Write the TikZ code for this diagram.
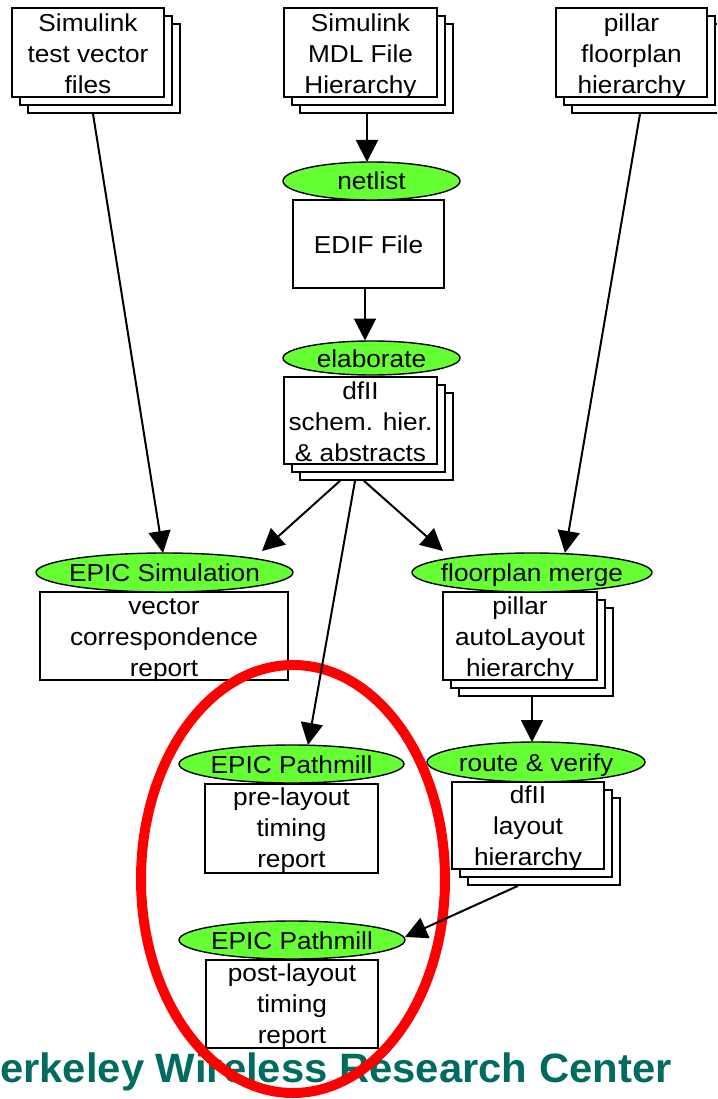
\documentclass[tikz,border=0pt]{standalone}
\usepackage{fontspec}
\setmainfont{Liberation Sans}[FakeStretch=1.07]
\newfontfamily\bwrcfont{Liberation Sans}[FakeStretch=1.02]
\usetikzlibrary{shapes.geometric,arrows.meta,calc}
\definecolor{toolgreen}{RGB}{102,255,51}
\definecolor{bwrcteal}{RGB}{0,107,94}
\definecolor{ringred}{RGB}{255,0,0}
\tikzset{
  sheet/.style={draw, fill=white, line width=1.7pt, inner sep=0pt},
  toolshape/.style={ellipse, draw, fill=toolgreen, line width=1.4pt, inner sep=0pt},
  boxtext/.style={anchor=base, align=center, inner sep=0pt, font=\fontsize{24.5}{31}\selectfont},
  conn/.style={line width=2pt, -{Triangle[length=22pt,width=22pt]}},
}
\newcommand\docstack[5]{%
  \node[sheet, minimum width=#4pt, minimum height=#5pt] (#1c) at (#2+16,#3+16) {};
  \node[sheet, minimum width=#4pt, minimum height=#5pt] (#1b) at (#2+8,#3+8) {};
  \node[sheet, minimum width=#4pt, minimum height=#5pt] (#1) at (#2,#3) {};
}
\begin{document}
\begin{tikzpicture}[x=1pt,y=-1pt]
\useasboundingbox (0,0) rectangle (717,1099);
\clip (0,0) rectangle (717,1099);

% ---- document stacks and boxes (text anchored at the baseline of its last line)
\docstack{A}{88}{52.5}{152}{89}
\node[boxtext] (tA) at (88,94) {Simulink\\test vector\\files};
\docstack{B}{360.5}{52.5}{153}{89}
\node[boxtext] (tB) at (360.5,94) {Simulink\\MDL File\\Hierarchy};
\docstack{C}{631.5}{52.5}{151}{89}
\node[boxtext] (tC) at (631.5,94) {pillar\\floorplan\\hierarchy};

\node[sheet, minimum width=151pt, minimum height=88pt] (edif) at (368.5,244) {};
\node[boxtext] (tedif) at (368.5,254) {EDIF File};

\docstack{S}{360.5}{420.5}{153}{87}
\node[boxtext] (tS) at (360.5,461) {dfII\\schem. hier.\\\& abstracts};

\node[sheet, minimum width=248pt, minimum height=88pt] (vec) at (164,636) {};
\node[boxtext] (tvec) at (164,676) {vector\\correspondence\\report};

\docstack{P}{520}{636}{154}{88}
\node[boxtext] (tP) at (520,676) {pillar\\autoLayout\\hierarchy};

\docstack{L}{528}{825.5}{152}{87}
\node[boxtext] (tL) at (528,865) {dfII\\layout\\hierarchy};

\node[sheet, minimum width=173pt, minimum height=89pt] (pre) at (291.5,828.5) {};
\node[boxtext] (tpre) at (291.5,867) {pre-layout\\timing\\report};

\node[sheet, minimum width=172pt, minimum height=88pt] (post) at (292,1004) {};
\node[boxtext] (tpost) at (292,1043) {post-layout\\timing\\report};

% ---- tool ellipses
\node[toolshape, minimum width=177pt, minimum height=38pt] (netlist) at (371.5,181) {};
\node[boxtext] (tnetlist) at ($(netlist.center)+(0,9)$) {netlist};
\node[toolshape, minimum width=177pt, minimum height=34pt] (elab) at (371.5,358) {};
\node[boxtext] (telab) at ($(elab.center)+(0,9)$) {elaborate};
\node[toolshape, minimum width=257pt, minimum height=39pt] (sim) at (164.5,572.5) {};
\node[boxtext] (tsim) at ($(sim.center)+(0,8.5)$) {EPIC Simulation};
\node[toolshape, minimum width=240pt, minimum height=39pt] (fm) at (532,572.5) {};
\node[boxtext] (tfm) at ($(fm.center)+(0,8.5)$) {floorplan merge};
\node[toolshape, minimum width=218pt, minimum height=40pt] (rv) at (536,762) {};
\node[boxtext] (trv) at ($(rv.center)+(0,9.5)$) {route \& verify};
\node[toolshape, minimum width=225pt, minimum height=38pt] (pm1) at (291.5,764) {};
\node[boxtext] (tpm1) at ($(pm1.center)+(0,9.3)$) {EPIC Pathmill};
\node[toolshape, minimum width=226pt, minimum height=38pt] (pm2) at (292,940) {};
\node[boxtext] (tpm2) at ($(pm2.center)+(0,9.3)$) {EPIC Pathmill};

% ---- footer text
\node[anchor=base west, inner sep=0pt, text=bwrcteal, font=\bwrcfont\bfseries\fontsize{41}{41}\selectfont] (footer) at (0,1082) {erkeley Wireless Research Center};

% ---- highlight ring
\coordinate (ringc) at (293,879);
\draw[ringred, line width=10pt] (ringc) ellipse [x radius=152pt, y radius=214pt];

% ---- connectors
\draw[conn] ($(Bc.south)+(-9.5,0)$) -- ($(netlist.center)+(-4.5,-19)$);
\draw[conn] ($(edif.south)+(-3.5,0)$) -- ($(elab.center)+(-6.5,-17.5)$);
\draw[conn] ($(Ac.south)+(-11,0)$) -- ($(sim.center)+(-1.5,-19.5)$);
\draw[conn] ($(Sc.south)+(-36.5,0)$) -- ($(sim.center)+(97.5,-21.5)$);
\draw[conn] ($(Sc.south)+(-21.5,0)$) -- ($(pm1.center)+(16.5,-19)$);
\draw[conn] ($(Sc.south)+(-12.5,0)$) -- ($(fm.center)+(-89,-21.5)$);
\draw[conn] ($(Cc.south)+(-7.5,0)$) -- ($(fm.center)+(33,-19.5)$);
\draw[conn] ($(Pc.south)+(-4,0)$) -- ($(rv.center)+(-4,-20)$);
\draw[conn] ($(Lc.south)+(-26,0)$) -- ($(pm2.center)+(113,-3)$);
\end{tikzpicture}
\end{document}
